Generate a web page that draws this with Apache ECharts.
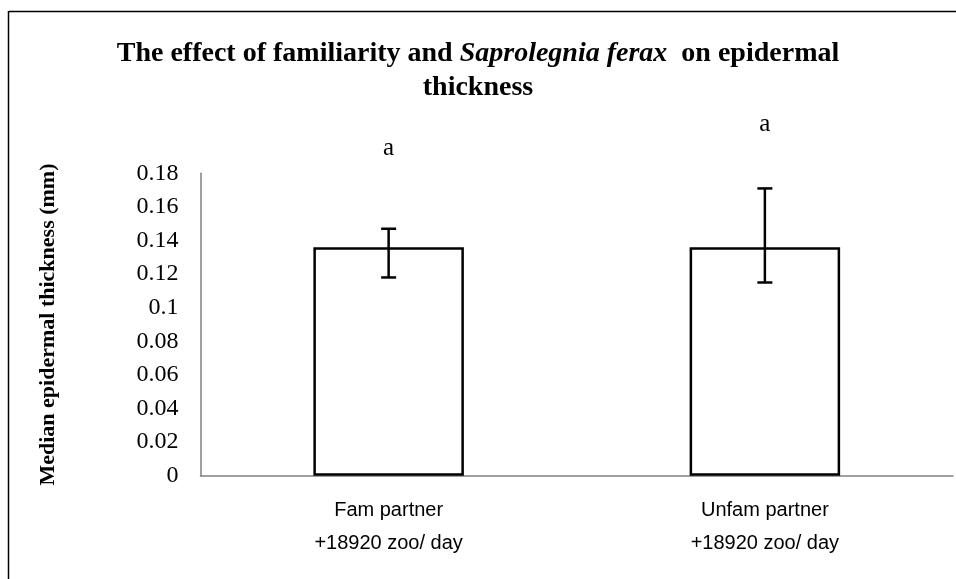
<!DOCTYPE html>
<html><head><meta charset="utf-8">
<script src="https://cdn.jsdelivr.net/npm/echarts@6/dist/echarts.min.js"></script>
<style>html,body{margin:0;padding:0;background:#fff}#c{width:956px;height:579px}</style>
</head><body><div id="c"></div>
<script>
var categories = ['Fam partner\n+18920 zoo/ day', 'Unfam partner\n+18920 zoo/ day'];
var medians = [0.136, 0.136];
var errLow = [0.118, 0.115];
var errHigh = [0.147, 0.171];
var letters = ['a', 'a'];
var letterY = [0.195, 0.209];
var yTicks = [0, 0.02, 0.04, 0.06, 0.08, 0.1, 0.12, 0.14, 0.16, 0.18];

var chart = echarts.init(document.getElementById('c'), null, {renderer: 'canvas'});
chart.setOption({
  animation: false,
  backgroundColor: '#fff',
  graphic: [
    {type: 'line', shape: {x1: 9, y1: 11.5, x2: 956, y2: 11.5}, style: {stroke: '#000', lineWidth: 1.5}},
    {type: 'line', shape: {x1: 8.5, y1: 11, x2: 8.5, y2: 579}, style: {stroke: '#000', lineWidth: 1.5}}
  ],
  title: {
    text: '{b|The effect of familiarity and }{i|Saprolegnia ferax}{b|  on epidermal}\n{b|thickness}',
    left: 'center', top: 32,
    textStyle: {
      rich: {
        b: {fontFamily: 'Liberation Serif', fontWeight: 'bold', fontSize: 28, color: '#000', lineHeight: 34},
        i: {fontFamily: 'Liberation Serif', fontWeight: 'bold', fontStyle: 'italic', fontSize: 28, color: '#000', lineHeight: 34}
      }
    }
  },
  grid: {left: 200.5, right: 3, top: 173.3, bottom: 103.3, containLabel: false},
  xAxis: {
    type: 'category', data: categories,
    axisLine: {lineStyle: {color: '#808080', width: 1.5}},
    axisTick: {show: false},
    axisLabel: {fontFamily: 'Liberation Sans', fontSize: 20, color: '#000', lineHeight: 33, margin: 18}
  },
  yAxis: {
    type: 'value', min: 0, max: 0.18, interval: 0.02,
    axisLine: {show: true, lineStyle: {color: '#808080', width: 1.5}},
    axisTick: {show: false},
    splitLine: {show: false},
    axisLabel: {fontFamily: 'Liberation Serif', fontSize: 24, color: '#000', margin: 22,
      formatter: function (v) { return String(parseFloat(v.toFixed(2))); }},
    name: 'Median epidermal thickness (mm)',
    nameLocation: 'middle', nameGap: 141, nameRotate: 90,
    nameTextStyle: {fontFamily: 'Liberation Serif', fontWeight: 'bold', fontSize: 22, color: '#000'}
  },
  series: [
    {
      type: 'bar', data: medians, barWidth: '40%',
      itemStyle: {color: '#fff', borderColor: '#000', borderWidth: 2.5},
      z: 2
    },
    {
      type: 'custom', z: 3, clip: false,
      data: categories.map(function (c, i) { return [i, errLow[i], errHigh[i]]; }),
      renderItem: function (params, api) {
        var lo = api.coord([api.value(0), api.value(1)]);
        var hi = api.coord([api.value(0), api.value(2)]);
        var hw = 7.5;
        var st = {stroke: '#000', lineWidth: 2.5};
        return {type: 'group', children: [
          {type: 'line', shape: {x1: hi[0], y1: hi[1], x2: lo[0], y2: lo[1]}, style: st},
          {type: 'line', shape: {x1: hi[0] - hw, y1: hi[1], x2: hi[0] + hw, y2: hi[1]}, style: st},
          {type: 'line', shape: {x1: lo[0] - hw, y1: lo[1], x2: lo[0] + hw, y2: lo[1]}, style: st}
        ]};
      }
    },
    {
      type: 'custom', z: 3, clip: false,
      data: categories.map(function (c, i) { return [i, letterY[i]]; }),
      renderItem: function (params, api) {
        var p = api.coord([api.value(0), api.value(1)]);
        return {type: 'text', style: {text: letters[params.dataIndex], x: p[0], y: p[1],
          align: 'center', verticalAlign: 'middle', fontFamily: 'Liberation Serif', fontSize: 25, fill: '#000'}};
      }
    }
  ]
});
</script></body></html>
